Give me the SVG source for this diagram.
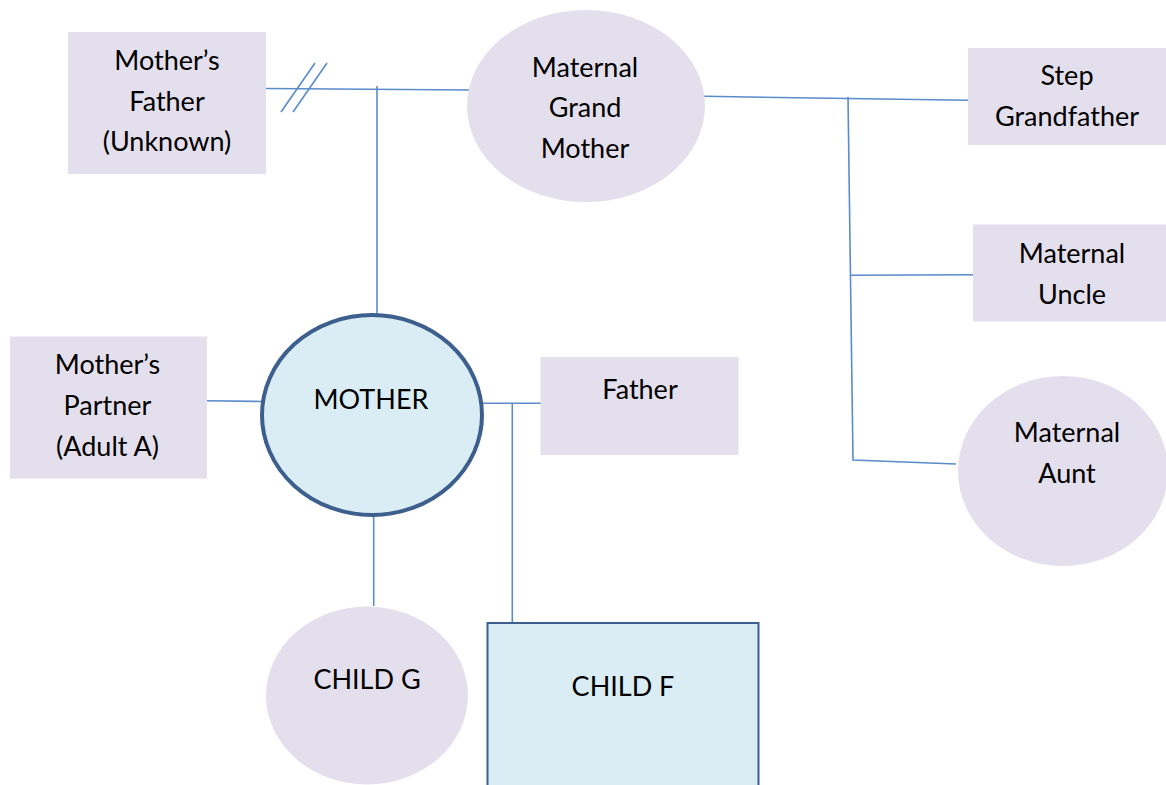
<svg xmlns="http://www.w3.org/2000/svg" width="1166" height="785" viewBox="0 0 1166 785">
<style>
.n{fill:#e4dfec;}
.b{fill:#daedf4;stroke:#3c5f8e;}
.t{font-family:Lato,"Open Sans","Liberation Sans",sans-serif;font-size:27px;fill:#000;text-anchor:middle;}
.c{stroke:#5a8bcb;stroke-width:1.6;fill:none;}
</style>
<rect width="1166" height="785" fill="#fff"/>
<g id="connectors">
<path class="c" d="M266 88.5 L471 90"/>
<path class="c" d="M281 112 L315 63 M293 112 L327 63"/>
<path class="c" d="M377 86 L377 315"/>
<path class="c" d="M704 96.3 L968 100.3"/>
<path class="c" d="M848 97 L853 460 L956 464"/>
<path class="c" d="M851 275.3 L974 274.7"/>
<path class="c" d="M207 400.7 L262 401.5"/>
<path class="c" d="M482 403.3 L541 403.3"/>
<path class="c" d="M512.3 403.3 L512.3 622"/>
<path class="c" d="M373.7 515 L373.7 606"/>
</g>
<g id="mothers-father">
<rect class="n" x="68" y="32" width="198" height="142"/>
<text class="t" x="167" y="70">Mother’s</text>
<text class="t" x="167" y="111">Father</text>
<text class="t" x="167" y="151">(Unknown)</text>
</g>
<g id="maternal-grandmother">
<ellipse class="n" cx="586" cy="106" rx="119" ry="96"/>
<text class="t" x="585" y="77">Maternal</text>
<text class="t" x="585" y="117">Grand</text>
<text class="t" x="585" y="158">Mother</text>
</g>
<g id="step-grandfather">
<rect class="n" x="968" y="48" width="198" height="97"/>
<text class="t" x="1067" y="85">Step</text>
<text class="t" x="1067" y="126">Grandfather</text>
</g>
<g id="maternal-uncle">
<rect class="n" x="973" y="224.5" width="193" height="97"/>
<text class="t" x="1072" y="263">Maternal</text>
<text class="t" x="1072" y="304">Uncle</text>
</g>
<g id="maternal-aunt">
<ellipse class="n" cx="1063" cy="471" rx="105" ry="95"/>
<text class="t" x="1067" y="442">Maternal</text>
<text class="t" x="1067" y="483">Aunt</text>
</g>
<g id="mothers-partner">
<rect class="n" x="10" y="336.5" width="197" height="142"/>
<text class="t" x="107.5" y="374">Mother’s</text>
<text class="t" x="107.5" y="415">Partner</text>
<text class="t" x="107.5" y="456">(Adult A)</text>
</g>
<g id="mother">
<ellipse class="b" cx="372" cy="415" rx="110" ry="100" stroke-width="4"/>
<text class="t" x="371" y="409">MOTHER</text>
</g>
<g id="father">
<rect class="n" x="540.5" y="357" width="198" height="98"/>
<text class="t" x="640" y="399">Father</text>
</g>
<g id="child-g">
<ellipse class="n" cx="367" cy="695.5" rx="101" ry="89"/>
<text class="t" x="367" y="689">CHILD G</text>
</g>
<g id="child-f">
<rect class="b" x="487.5" y="623" width="271" height="170" stroke-width="2"/>
<text class="t" x="623" y="696">CHILD F</text>
</g>
</svg>
